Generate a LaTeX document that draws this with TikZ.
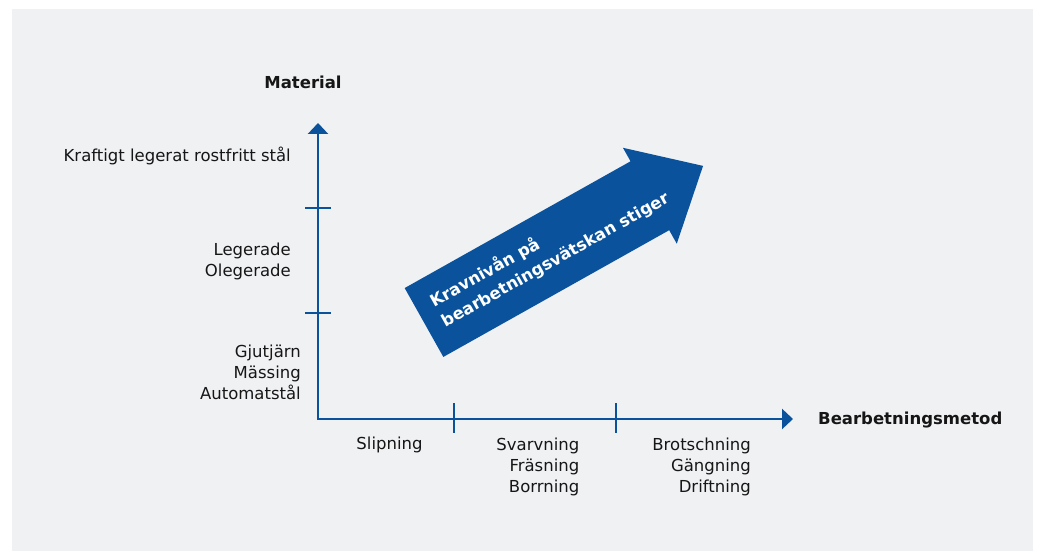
\documentclass[tikz,border=0pt]{standalone}
\usepackage{fontspec}
\setmainfont{DejaVu Sans}
\usepackage{xcolor}
\usepackage{tikz}
\usetikzlibrary{arrows.meta,positioning}

\definecolor{panelgray}{HTML}{F0F1F3}
\definecolor{axisblue}{HTML}{0A539C}
\definecolor{inkblack}{HTML}{161616}

\begin{document}
\begin{tikzpicture}[x=1pt, y=1pt, >={Triangle[length=11pt,width=20pt]},
  axis/.style={axisblue, line width=2.5pt},
  lbl/.style={inkblack, inner sep=0pt, font=\fontsize{16.5}{21}\selectfont},
  title/.style={lbl, font=\fontsize{16.5}{21}\selectfont\bfseries}]
  % panel
  \useasboundingbox (0,0) rectangle (1038,551);
  \fill[panelgray] (12,0) rectangle (1033,542);
  % axes
  \coordinate (O) at (318,132);
  \coordinate (ytop) at (318,428);
  \coordinate (xend) at (793,132);
  \draw[axis, <->, line join=miter] (ytop) -- (O) -- (xend);
  \foreach \y in {238,343} \draw[axis] (305,\y) -- (331,\y);
  \foreach \x in {454,616} \draw[axis] (\x,118) -- (\x,148);
  % axis titles
  \node[title, anchor=base] (material) at (303,462) {Material};
  \node[title, anchor=base west] (metod) at (818,126) {Bearbetningsmetod};
  % material classes
  \node[lbl, anchor=base east] (rostfritt) at (291,389.5) {Kraftigt legerat rostfritt stål};
  \node[lbl, align=right, anchor=north east] (legerade) at (291,308.5) {Legerade\\Olegerade};
  \node[lbl, align=right, anchor=north east] (gjutjarn) at (301,206) {Gjutjärn\\Mässing\\Automatstål};
  % methods
  \node[lbl, anchor=base] (slipning) at (389.5,101) {Slipning};
  \node[lbl, align=right, anchor=north east] (svarvning) at (579.5,113.5) {Svarvning\\Fräsning\\Borrning};
  \node[lbl, align=right, anchor=north east] (brotschning) at (751,113.5) {Brotschning\\Gängning\\Driftning};
  % big arrow
  \begin{scope}[shift={(424,228.5)}, rotate=29.3]
    \fill[axisblue] (0,-39.5) -- (259,-39.5) -- (259,-55) -- (320,0)
      -- (259,55) -- (259,39.5) -- (0,39.5) -- cycle;
    \node[lbl, white, font=\fontsize{16.5}{23}\selectfont\bfseries, align=left,
      anchor=west, rotate=29.3] (krav) at (16,2) {Kravnivån på\\bearbetningsvätskan stiger};
  \end{scope}
\end{tikzpicture}
\end{document}
